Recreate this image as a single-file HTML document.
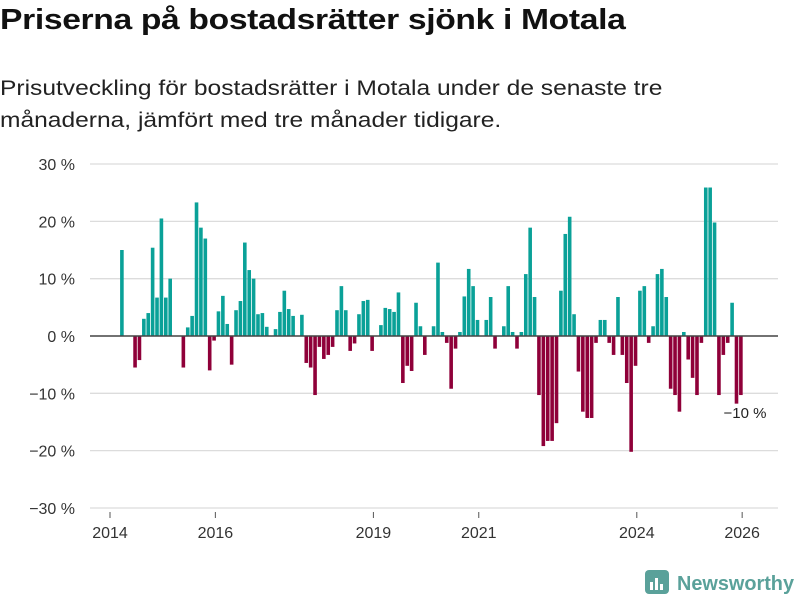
<!DOCTYPE html>
<html><head><meta charset="utf-8">
<style>
body{margin:0;background:#fff;width:800px;height:600px;overflow:hidden;font-family:"Liberation Sans","DejaVu Sans",sans-serif;color:#111}
#title{position:absolute;left:0;top:4px;font-size:29px;font-weight:bold;letter-spacing:-0.3px;white-space:nowrap;transform:scaleX(1.16);transform-origin:0 0}
#subtitle{position:absolute;left:0;top:73px;font-size:21px;line-height:32px;color:#222;white-space:nowrap;transform:scaleX(1.17);transform-origin:0 0}
svg{position:absolute;left:0;top:0}
</style></head><body>
<div id="title">Priserna på bostadsrätter sjönk i Motala</div>
<div id="subtitle">Prisutveckling för bostadsrätter i Motala under de senaste tre<br>månaderna, jämfört med tre månader tidigare.</div>
<svg id="chart" width="800" height="600"></svg>
<script>
// months since Jan 2014 for first bar
const startMonth = 2;
const values = [15,0,0,-5.5,-4.2,3,4,15.4,6.7,20.5,6.7,10,0,0,-5.5,1.5,3.5,23.3,18.9,17,-6,-0.8,4.3,7,2.1,-5,4.5,6.1,16.3,11.5,10,3.8,4,1.6,0,1.2,4.2,7.9,4.7,3.5,0,3.7,-4.7,-5.5,-10.3,-1.9,-4,-3.3,-1.9,4.5,8.7,4.5,-2.6,-1.3,3.8,6.1,6.3,-2.6,0,1.9,4.9,4.7,4.2,7.6,-8.2,-5.2,-6.1,5.8,1.7,-3.3,0,1.7,12.8,0.7,-1.2,-9.2,-2.2,0.7,6.9,11.7,8.7,2.8,0,2.8,6.8,-2.2,0,1.7,8.7,0.7,-2.2,0.7,10.8,18.9,6.8,-10.3,-19.2,-18.3,-18.3,-15.2,7.9,17.8,20.8,3.8,-6.2,-13.2,-14.3,-14.3,-1.2,2.8,2.8,-1.2,-3.3,6.8,-3.3,-8.2,-20.2,-5.2,7.9,8.7,-1.2,1.7,10.8,11.7,6.8,-9.2,-10.3,-13.2,0.7,-4.1,-7.3,-10.3,-1.2,25.9,25.9,19.8,-10.3,-3.3,-1.2,5.8,-11.8,-10.3];
const yTicks = [30,20,10,0,-10,-20,-30];
const yTickLabels = ["30 %","20 %","10 %","0 %","\u221210 %","\u221220 %","\u221230 %"];
const xTickYears = [2014,2016,2019,2021,2024,2026];
const lastLabel = "\u221210 %";

const NS="http://www.w3.org/2000/svg";
const svg=document.getElementById('chart');
const X=m=>110+m*4.39;
const Y=v=>336-v*5.733;
function el(t,a,p){const e=document.createElementNS(NS,t);for(const k in a)e.setAttribute(k,a[k]);(p||svg).appendChild(e);return e;}

yTicks.forEach((v,i)=>{
  if(v!==0){const g=el('line',{x1:90,x2:778,y1:Y(v),y2:Y(v),stroke:'#dcdcdc','stroke-width':1.3});
  
  }
  const t=el('text',{x:75,y:Y(v)+6,'text-anchor':'end','font-size':16,fill:'#333'});
  t.textContent=yTickLabels[i];
  
  
});
xTickYears.forEach(yr=>{
  const x=X((yr-2014)*12);
  const tk=el('line',{x1:x,x2:x,y1:512,y2:518,stroke:'#555','stroke-width':1});
  
  
  const t=el('text',{x:x,y:538,'text-anchor':'middle','font-size':16,fill:'#333'});
  t.textContent=yr;
  
  
});
values.forEach((v,i)=>{
  if(v===0)return;
  const m=startMonth+i;
  const y0=Y(Math.max(v,0)),y1=Y(Math.min(v,0));
  const b=el('rect',{x:X(m+0.3),y:y0,width:3.6,height:Math.max(y1-y0,0.5),fill:v>0?'#0aa198':'#8f0039'});
  
  
});
const zl=el('line',{x1:90,x2:778,y1:Y(0),y2:Y(0),stroke:'#444','stroke-width':1.6});


const ll=el('text',{x:745,y:418,'text-anchor':'middle','font-size':15,fill:'#222'});
ll.textContent=lastLabel;



// logo
const lg=el('g',{});


el('rect',{x:645,y:570,width:24,height:24,rx:4,fill:'#5aa19a'},lg);
el('rect',{x:650,y:582,width:3,height:8,fill:'#fff'},lg);
el('rect',{x:655,y:578,width:3,height:12,fill:'#fff'},lg);
el('rect',{x:660,y:584,width:3,height:6,fill:'#fff'},lg);
const lt=el('text',{x:677,y:590,'font-size':20,'font-weight':'bold',fill:'#5aa19a',textLength:117,lengthAdjust:'spacingAndGlyphs'},lg);
lt.textContent='Newsworthy';
</script>
</body></html>
